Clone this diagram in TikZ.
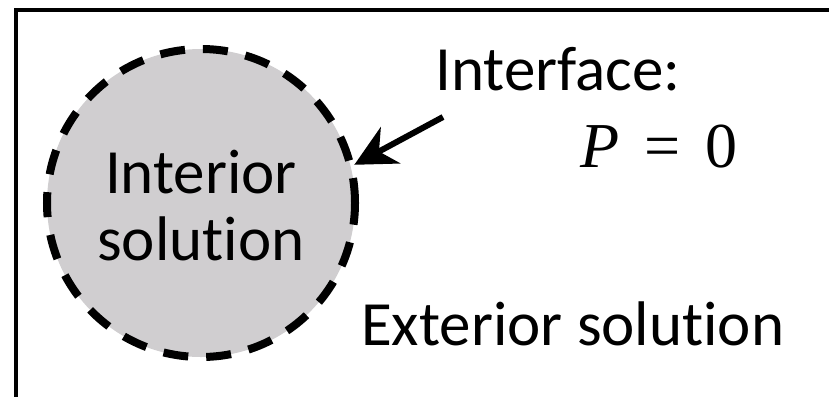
\documentclass[tikz,border=0pt]{standalone}
\usepackage{fontspec}
\setmainfont{Carlito}[Ligatures=CommonOff]
\newfontfamily\mathserif{Liberation Serif}
\usetikzlibrary{arrows.meta}

\definecolor{regiongray}{RGB}{208,206,208}

\tikzset{
  frame/.style={draw=black, line width=3.3bp},
  region/.style={circle, minimum size=308bp, inner sep=0pt, fill=regiongray,
                 draw=black, line width=8bp, dash pattern=on 25bp off 18bp},
  label/.style={font=\fontsize{63bp}{67bp}\selectfont, inner sep=0pt},
  pointer/.style={line width=6bp,
                  -{Stealth[length=41bp, width=41bp, inset=13bp]}}
}

\begin{document}
\begin{tikzpicture}[x=1bp, y=-1bp]
  \useasboundingbox (0,0) rectangle (829,396);

  % outer domain (runs off the right and bottom)
  \draw[frame] (16,10) rectangle (860,430);

  % interior region bounded by the dashed interface
  \node[region] (interior) at (201,203) {};
  \node[label, align=center, anchor=base] (intlabel) at (201,260) {Interior\\solution};

  % interface annotation
  \node[label, anchor=base west] (iface) at (435,90) {Interface:};
  \node[label, anchor=base west, font=\fontsize{64bp}{68bp}\selectfont\mathserif]
       (cond) at (580,167) {\itshape P\upshape\hspace{25bp}=\hspace{25bp}0};

  \coordinate (tail) at (443,117);
  \draw[pointer] (tail) -- (interior.14);

  % exterior label
  \node[label, anchor=base west] (extlabel) at (361,345) {Exterior solution};
\end{tikzpicture}
\end{document}
